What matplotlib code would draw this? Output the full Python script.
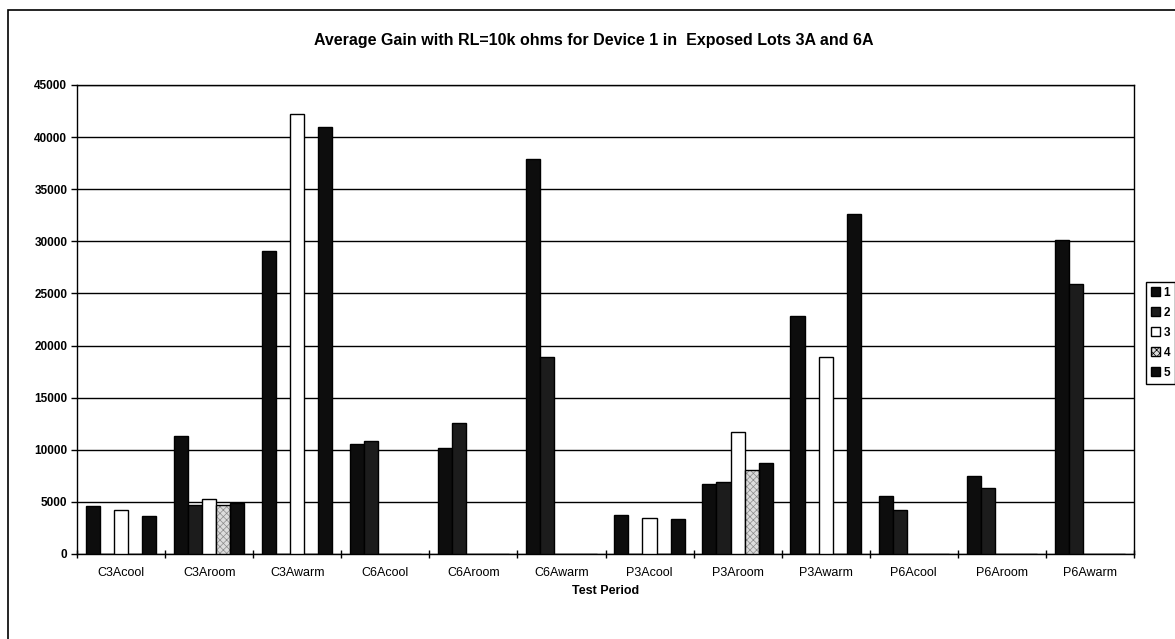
import matplotlib
matplotlib.use("Agg")
import matplotlib.pyplot as plt
import numpy as np
from matplotlib.patches import Rectangle

plt.rcParams['font.family'] = ['Liberation Sans', 'DejaVu Sans']
plt.rcParams['hatch.linewidth'] = 0.5

categories = ["C3Acool", "C3Aroom", "C3Awarm", "C6Acool", "C6Aroom", "C6Awarm",
              "P3Acool", "P3Aroom", "P3Awarm", "P6Acool", "P6Aroom", "P6Awarm"]
series_names = ["1", "2", "3", "4", "5"]
s1 = [4600, 11300, 29100, 10600, 10200, 37900, 3700, 6700, 22850, 5600, 7500, 30100]
s2 = [0, 4700, 0, 10800, 12600, 18900, 0, 6900, 0, 4200, 6300, 25900]
s3 = [4200, 5300, 42200, 0, 0, 0, 3500, 11700, 18900, 0, 0, 0]
s4 = [0, 4700, 0, 0, 0, 0, 0, 8100, 0, 0, 0, 0]
s5 = [3600, 4900, 41000, 0, 0, 0, 3400, 8750, 32600, 0, 0, 0]
yticks = list(range(0, 45001, 5000))

series = [s1, s2, s3, s4, s5]
faces = ["#0d0d0d", "#1c1c1c", "#ffffff", "#dcdcdc", "#0d0d0d"]

fig = plt.figure(figsize=(11.75, 6.39), dpi=100)
ax = fig.add_axes([77/1175, 1-554/639, (1134-77)/1175, (554-85)/639])

x = np.arange(len(categories))
w = 0.16
handles = []
for i, (vals, fc) in enumerate(zip(series, faces)):
    if i == 3:
        bars = ax.bar(x + (i - 2) * w, vals, width=w, color=fc, edgecolor="#8a8a8a",
                      linewidth=0, hatch="xxxxx", label=series_names[i], zorder=3)
        ax.bar(x + (i - 2) * w, vals, width=w, fill=False, edgecolor="black",
               linewidth=1.0, zorder=3.5)
    else:
        bars = ax.bar(x + (i - 2) * w, vals, width=w, color=fc, edgecolor="black",
                      linewidth=1.0, label=series_names[i], zorder=3)
    handles.append(bars)

ax.set_xlim(-0.5, len(categories) - 0.5)
ax.set_ylim(0, 45000)
ax.set_yticks(yticks)
ax.set_yticklabels([str(v) for v in yticks], fontsize=8.5, fontweight='bold')
ax.set_xticks(x)
ax.set_xticklabels(categories, fontsize=9)
ax.tick_params(axis='x', length=0, pad=9)
ax.set_xticks(np.arange(-0.5, len(categories), 1.0), minor=True)
ax.tick_params(axis='x', which='minor', length=6, direction='inout', width=1)
ax.tick_params(axis='y', length=4, direction='out', width=1, pad=3)
ax.yaxis.grid(True, color='black', linewidth=1.0, zorder=0)
ax.set_axisbelow(True)
for sp in ax.spines.values():
    sp.set_linewidth(1.0)
    sp.set_color('black')

ax.set_xlabel("Test Period", fontsize=9, fontweight='bold', labelpad=5)
fig.text(594/1175, 1-41/639, "Average Gain with RL=10k ohms for Device 1 in  Exposed Lots 3A and 6A",
         ha='center', va='center', fontsize=11.5, fontweight='bold')

leg = fig.legend(handles=handles, labels=series_names, loc='upper left',
                 bbox_to_anchor=(1146/1175, 1-282/639),
                 prop={'weight': 'bold', 'size': 8.5},
                 handlelength=0.8, handleheight=0.8, handletextpad=0.3,
                 labelspacing=0.68, borderpad=0.4, borderaxespad=0,
                 fancybox=False, framealpha=1, edgecolor='black')
leg.get_frame().set_linewidth(1.0)
for p in leg.get_patches():
    p.set_edgecolor('black')
    p.set_linewidth(1.0)

# outer chart border
fig.patches.append(Rectangle((8/1175, -0.02), 1.02, 1-10/639+0.02,
                             transform=fig.transFigure, fill=False,
                             edgecolor='black', linewidth=1.2))

fig.savefig("out.png", dpi=100)
